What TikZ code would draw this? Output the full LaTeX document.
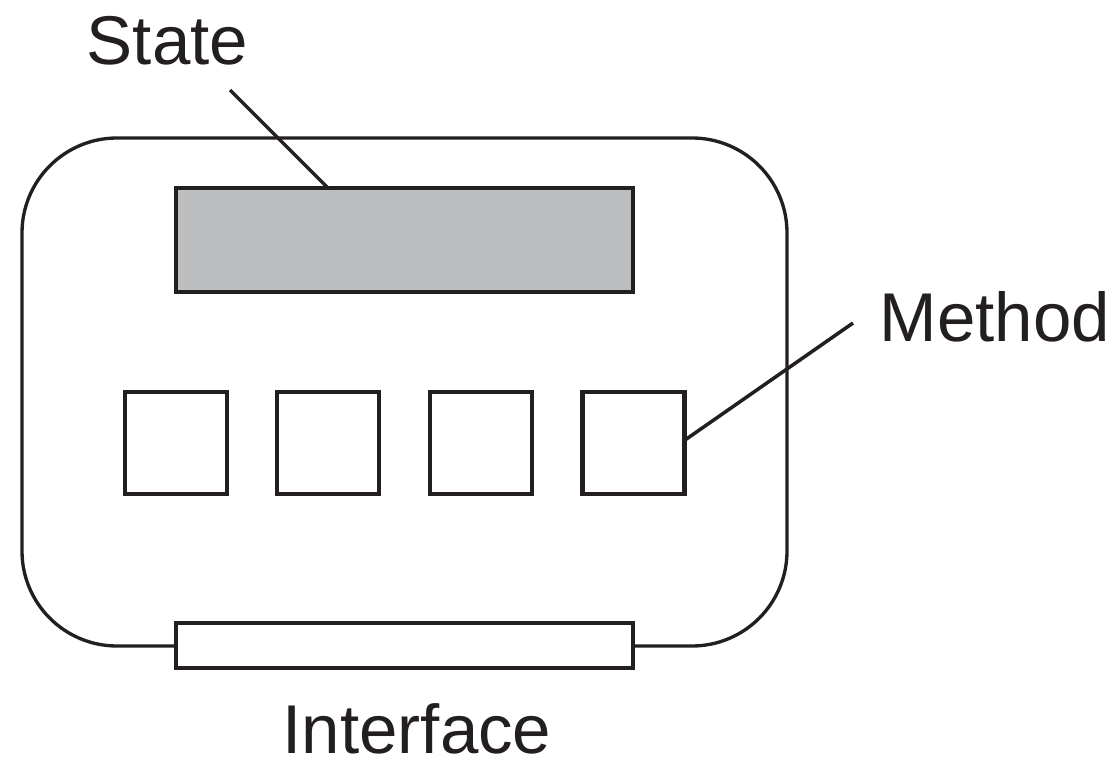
\documentclass[tikz,border=0pt]{standalone}
\usepackage{fontspec}
\setmainfont{Liberation Sans}
\definecolor{stategray}{HTML}{BCBEC0}
\definecolor{ink}{HTML}{231F20}
\begin{document}
\begin{tikzpicture}[x=0.02cm,y=-0.02cm,
  boxline/.style={draw=ink,line width=2.5pt,inner sep=0pt,outer sep=0pt},
  methodbox/.style={boxline,fill=white,minimum width=102*0.02cm,minimum height=102*0.02cm},
  lbl/.style={font=\fontsize{39.3}{47}\selectfont,text=ink,inner sep=0pt,anchor=base},
  leader/.style={draw=ink,line width=2pt}]
\useasboundingbox (0,0) rectangle (1119,760);
% outer body
\node[draw=ink,line width=1.9pt,rounded corners=1.9cm,minimum width=765*0.02cm,minimum height=508*0.02cm,inner sep=0pt] (outer) at (404.5,392) {};
% state
\node[boxline,fill=stategray,minimum width=457*0.02cm,minimum height=104*0.02cm] (state) at (404.5,240) {};
% methods
\node[methodbox] (m1) at (176,443) {};
\node[methodbox] (m2) at (328,443) {};
\node[methodbox] (m3) at (481,443) {};
\node[methodbox] (m4) at (633.5,443) {};
% interface
\node[boxline,fill=white,minimum width=457*0.02cm,minimum height=45*0.02cm] (iface) at (404.5,645.5) {};
% labels
\node[lbl] (statelbl) at (167.5,65) {State};
\node[lbl] (methodlbl) at (995,341) {Method};
\node[lbl] (ifacelbl) at (417,753) {Interface};
% leaders
\coordinate (sa) at (230,90);
\coordinate (sb) at (328,188);
\coordinate (ma) at (853,323);
\coordinate (mb) at (685,440);
\draw[leader] (sa) -- (sb);
\draw[leader] (ma) -- (mb);
\end{tikzpicture}
\end{document}
